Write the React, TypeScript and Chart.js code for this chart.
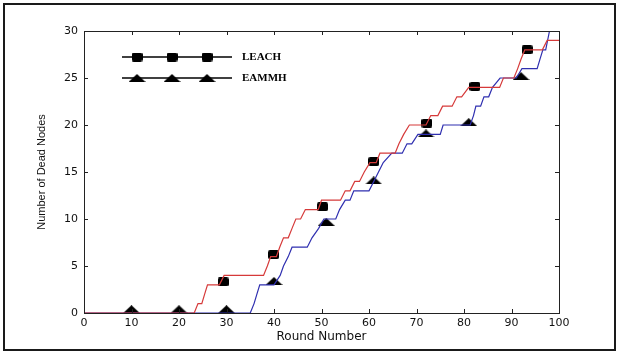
import React, { useEffect, useRef } from "react";
import { Chart, registerables } from "chart.js";

Chart.register(...registerables);

// ---- data ----
const SERIES_NAMES = ["LEACH", "EAMMH"];
const X_TITLE = "Round Number";
const Y_TITLE = "Number of Dead Nodes";
const X_MIN = 0;
const X_MAX = 100;
const X_STEP = 10;
const Y_MIN = 0;
const Y_MAX = 30;
const Y_STEP = 5;

const leachX = [0, 23.2, 24, 24.8, 25.4, 26, 28.5, 29.5, 37.8, 38.6, 39.3, 40.5, 41.2, 42, 43, 43.8, 44.6, 45.6, 46.6, 49.3, 50, 54, 55, 56, 57, 58, 59, 60.2, 61.5, 62.3, 65.5, 66.3, 67.3, 68.5, 72, 73, 74.5, 75.5, 77.5, 78.5, 79.5, 81, 87.5, 88.3, 90.5, 91.3, 92, 92.8, 96.5, 97.5, 100];
const leachY = [0, 0, 1, 1, 2, 3, 3, 4, 4, 5, 6, 6, 7, 8, 8, 9, 10, 10, 11, 11, 12, 12, 13, 13, 14, 14, 15, 16, 16, 17, 17, 18, 19, 20, 20, 21, 21, 22, 22, 23, 23, 24, 24, 25, 25, 26, 27, 28, 28, 29, 29];

const eammhX = [0, 35, 35.8, 36.4, 37, 40, 41.3, 42, 43, 43.8, 47, 48, 49.4, 50.5, 53, 53.8, 55, 56, 56.8, 60, 61, 62, 63, 64.8, 67, 68, 69, 70.3, 75, 75.6, 81.3, 82, 82.5, 83.5, 84.2, 85.2, 86, 87.6, 91, 92.2, 95.4, 96, 96.6, 97.2, 98, 98.6];
const eammhY = [0, 0, 1, 2, 3, 3, 4, 5, 6, 7, 7, 8, 9, 10, 10, 11, 12, 12, 13, 13, 14, 15, 16, 17, 17, 18, 18, 19, 19, 20, 20, 21, 22, 22, 23, 23, 24, 25, 25, 26, 26, 27, 28, 28, 30, 31];

const leachMarkX = [29.3, 39.9, 50.2, 61, 72.2, 82.3, 93.3];
const leachMarkY = [3.3, 6.2, 11.3, 16.1, 20.2, 24.1, 28.0];
const eammhMarkX = [10, 20, 30, 40, 51, 61, 72, 81, 92];
const eammhMarkY = [0.4, 0.4, 0.4, 3.4, 9.7, 14.1, 19.1, 20.3, 25.2];

const RED = "#d63a3a";
const BLUE = "#2f2fb0";

function makeSquare(): HTMLCanvasElement {
  const c = document.createElement("canvas");
  c.width = 11;
  c.height = 9;
  const g = c.getContext("2d")!;
  g.fillStyle = "#000";
  g.beginPath();
  g.roundRect(0, 0, 11, 9, 2);
  g.fill();
  return c;
}

function makeTriangle(): HTMLCanvasElement {
  const c = document.createElement("canvas");
  c.width = 17;
  c.height = 8;
  const g = c.getContext("2d")!;
  g.fillStyle = "#000";
  g.beginPath();
  g.moveTo(0, 8);
  g.lineTo(8.5, 0);
  g.lineTo(17, 8);
  g.closePath();
  g.fill();
  return c;
}

const toPts = (xs: number[], ys: number[]) => xs.map((x, i) => ({ x, y: ys[i] }));

export default function App() {
  const ref = useRef<HTMLCanvasElement | null>(null);

  useEffect(() => {
    if (!ref.current) return;
    const square = makeSquare();
    const tri = makeTriangle();

    const framePlugin = {
      id: "frame",
      afterDatasetsDraw(chart: any) {
        const { ctx, chartArea: a, scales } = chart;
        ctx.save();
        ctx.strokeStyle = "#222";
        ctx.lineWidth = 1;
        ctx.strokeRect(a.left + 0.5, a.top + 0.5, a.right - a.left, a.bottom - a.top);
        const tl = 4;
        ctx.beginPath();
        scales.x.ticks.forEach((t: any) => {
          const px = Math.round(scales.x.getPixelForValue(t.value)) + 0.5;
          ctx.moveTo(px, a.bottom);
          ctx.lineTo(px, a.bottom - tl);
          ctx.moveTo(px, a.top);
          ctx.lineTo(px, a.top + tl);
        });
        scales.y.ticks.forEach((t: any) => {
          const py = Math.round(scales.y.getPixelForValue(t.value)) + 0.5;
          ctx.moveTo(a.left, py);
          ctx.lineTo(a.left + tl, py);
          ctx.moveTo(a.right, py);
          ctx.lineTo(a.right - tl, py);
        });
        ctx.stroke();

        // legend
        const lx0 = a.left + 38;
        const lx1 = a.left + 148;
        const rows = [
          { y: a.top + 26, img: square, name: SERIES_NAMES[0] },
          { y: a.top + 47, img: tri, name: SERIES_NAMES[1] },
        ];
        rows.forEach((r) => {
          ctx.strokeStyle = "#000";
          ctx.lineWidth = 1.5;
          ctx.beginPath();
          ctx.moveTo(lx0, r.y);
          ctx.lineTo(lx1, r.y);
          ctx.stroke();
          [53, 88, 123].forEach((dx) => {
            const cx = a.left + dx;
            const w = r.img.width;
            const h = r.img.height;
            ctx.drawImage(r.img, cx - w / 2, r.y - h / 2 - (r.img === tri ? 0 : 0), w, h);
          });
          ctx.fillStyle = "#000";
          ctx.font = "bold 11px 'Liberation Serif'";
          ctx.textBaseline = "middle";
          ctx.textAlign = "left";
          ctx.fillText(r.name, a.left + 158, r.y);
        });
        ctx.restore();
      },
    };

    const chart = new Chart(ref.current, {
      type: "scatter",
      data: {
        datasets: [
          {
            type: "line",
            label: SERIES_NAMES[0],
            data: toPts(leachX, leachY),
            borderColor: RED,
            borderWidth: 1.2,
            pointRadius: 0,
            fill: false,
            tension: 0,
          },
          {
            type: "line",
            label: SERIES_NAMES[1],
            data: toPts(eammhX, eammhY),
            borderColor: BLUE,
            borderWidth: 1.2,
            pointRadius: 0,
            fill: false,
            tension: 0,
          },
          {
            type: "scatter",
            label: SERIES_NAMES[0] + " markers",
            data: toPts(leachMarkX, leachMarkY),
            pointStyle: square,
            pointRadius: 5,
            showLine: false,
          },
          {
            type: "scatter",
            label: SERIES_NAMES[1] + " markers",
            data: toPts(eammhMarkX, eammhMarkY),
            pointStyle: tri,
            pointRadius: 5,
            showLine: false,
          },
        ] as any,
      },
      options: {
        responsive: false,
        animation: false,
        devicePixelRatio: 1,
        layout: { padding: { top: 31, right: 60, left: 0, bottom: 0 } },
        plugins: { legend: { display: false }, tooltip: { enabled: false } },
        scales: {
          x: {
            type: "linear",
            min: X_MIN,
            max: X_MAX,
            grid: { display: false, drawTicks: false },
            border: { display: false },
            ticks: {
              stepSize: X_STEP,
              autoSkip: false,
              maxRotation: 0,
              padding: 4,
              color: "#111",
              font: { family: "DejaVu Sans", size: 11 },
            },
            title: {
              display: true,
              text: X_TITLE,
              color: "#111",
              font: { family: "DejaVu Sans", size: 12 },
              padding: { top: 0, bottom: 8 },
            },
            afterFit: (s: any) => {
              s.height = 39;
            },
          },
          y: {
            type: "linear",
            min: Y_MIN,
            max: Y_MAX,
            grid: { display: false, drawTicks: false },
            border: { display: false },
            ticks: {
              stepSize: Y_STEP,
              autoSkip: false,
              padding: 6,
              color: "#111",
              font: { family: "DejaVu Sans", size: 11 },
            },
            title: {
              display: true,
              text: Y_TITLE,
              color: "#111",
              font: { family: "Liberation Sans", size: 11 },
              padding: { top: 35, bottom: 0 },
            },
            afterFit: (s: any) => {
              s.width = 84;
            },
          },
        },
      },
      plugins: [framePlugin],
    });
    return () => chart.destroy();
  }, []);

  return (
    <div style={{ position: "fixed", left: 0, top: 0, width: 619, height: 352, background: "#fff" }}>
      <canvas ref={ref} width={619} height={352} style={{ position: "absolute", left: 0, top: 0, width: 619, height: 352 }} />
      <div
        style={{
          position: "absolute",
          left: 3,
          top: 3,
          width: 613,
          height: 348,
          boxSizing: "border-box",
          border: "2px solid #1a1a1a",
          pointerEvents: "none",
        }}
      />
    </div>
  );
}
